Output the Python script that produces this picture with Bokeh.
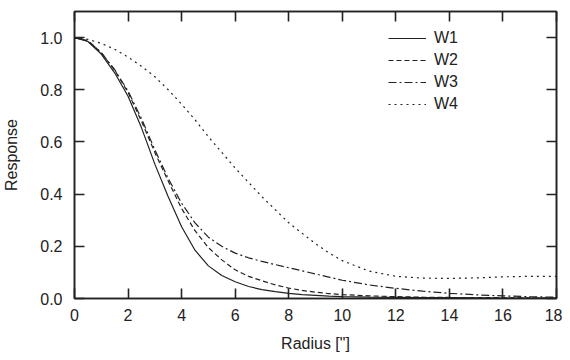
from bokeh.plotting import figure
from bokeh.models import Range1d, LinearAxis, SingleIntervalTicker, NumeralTickFormatter, Legend
from bokeh.embed import file_html
from bokeh.resources import INLINE

radius = [0, 0.5, 1, 1.5, 2, 2.5, 3, 3.5, 4, 4.5, 5, 5.5, 6, 6.5, 7, 7.5, 8, 8.5, 9, 9.5, 10,
          11, 12, 13, 14, 15, 16, 17, 18]
w1 = [1.0, 0.985, 0.937, 0.865, 0.775, 0.655, 0.515, 0.39, 0.275, 0.185, 0.125, 0.088, 0.064,
      0.046, 0.034, 0.026, 0.02, 0.015, 0.012, 0.009, 0.007, 0.005, 0.004, 0.0035, 0.003,
      0.0025, 0.002, 0.002, 0.002]
w2 = [1.0, 0.988, 0.942, 0.875, 0.79, 0.68, 0.56, 0.45, 0.345, 0.26, 0.195, 0.148, 0.11, 0.085,
      0.068, 0.052, 0.04, 0.031, 0.024, 0.019, 0.015, 0.01, 0.007, 0.005, 0.004, 0.003, 0.003,
      0.002, 0.002]
w3 = [1.0, 0.988, 0.942, 0.877, 0.795, 0.69, 0.57, 0.46, 0.365, 0.29, 0.235, 0.2, 0.174, 0.156,
      0.142, 0.13, 0.118, 0.106, 0.094, 0.082, 0.07, 0.052, 0.039, 0.028, 0.02, 0.014, 0.01,
      0.007, 0.005]
w4 = [1.0, 0.993, 0.978, 0.955, 0.925, 0.89, 0.85, 0.80, 0.745, 0.685, 0.62, 0.56, 0.50, 0.445,
      0.39, 0.34, 0.29, 0.25, 0.21, 0.175, 0.145, 0.105, 0.085, 0.078, 0.077, 0.079, 0.083,
      0.085, 0.085]
series_names = ["W1", "W2", "W3", "W4"]
dashes = ["solid", "5 3", "8 3 2 3", "2 4"]

FONT = "Liberation Sans"
INK = "#222222"

p = figure(frame_width=482, frame_height=287,
           x_range=Range1d(0, 18), y_range=Range1d(0, 1.1),
           output_backend="svg", toolbar_location=None,
           min_border_left=71, min_border_right=6, min_border_top=11, min_border_bottom=53,
           x_axis_label='Radius ["]', y_axis_label="Response")
p.grid.visible = False
p.outline_line_color = INK
p.outline_line_width = 1.5
p.background_fill_color = "white"
p.border_fill_color = "white"

p.xaxis.ticker = SingleIntervalTicker(interval=2)
p.yaxis.ticker = SingleIntervalTicker(interval=0.2)
p.yaxis.formatter = NumeralTickFormatter(format="0.0")

top = LinearAxis(ticker=SingleIntervalTicker(interval=2))
right = LinearAxis(ticker=SingleIntervalTicker(interval=0.2))
p.add_layout(top, "above")
p.add_layout(right, "right")

for ax in p.xaxis + p.yaxis:
    ax.major_tick_in = 10
    ax.major_tick_out = 0
    ax.minor_tick_line_color = None
    ax.axis_line_color = INK
    ax.axis_line_width = 1.6
    ax.major_tick_line_color = INK
    ax.major_tick_line_width = 1.6
    ax.major_label_text_font = FONT
    ax.major_label_text_color = INK
    ax.axis_label_text_font = FONT
    ax.axis_label_text_font_style = "normal"
    ax.axis_label_text_font_size = "16px"
    ax.axis_label_text_color = INK

for ax in (top, right):
    ax.major_label_text_color = None
    ax.major_label_text_font_size = "0px"
    ax.major_label_standoff = 0
    ax.axis_label_standoff = 0

for ax in (p.below[0], p.left[0]):
    ax.major_label_text_font_size = "16px"
p.below[0].major_label_standoff = 6
p.left[0].major_label_standoff = 8
p.below[0].axis_label_standoff = 11
p.left[0].axis_label_standoff = 17

items = []
for name, vals, dash in zip(series_names, [w1, w2, w3, w4], dashes):
    r = p.line(radius, vals, line_color=INK, line_width=1.2, line_dash=dash)
    items.append((name, [r]))

legend = Legend(items=items, location=(314, 184))
legend.border_line_color = None
legend.background_fill_alpha = 0
legend.label_text_font = FONT
legend.label_text_font_size = "16px"
legend.label_text_color = INK
legend.glyph_width = 38
legend.glyph_height = 20
legend.label_height = 20
legend.label_standoff = 8
legend.padding = 0
legend.margin = 0
legend.spacing = 2
p.add_layout(legend, "center")

open("out.html", "w").write(file_html(p, INLINE))
